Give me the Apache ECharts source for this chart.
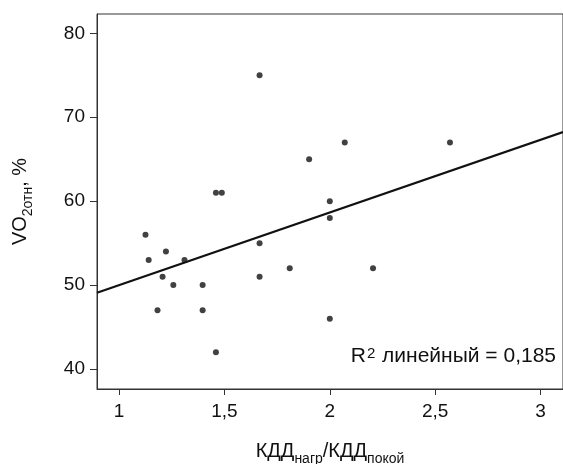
<!DOCTYPE html>
<html>
<head>
<meta charset="utf-8">
<script src="https://cdn.jsdelivr.net/npm/echarts@6/dist/echarts.min.js"></script>
<style>html,body{margin:0;padding:0;background:#fff}#c{width:563px;height:464px}</style>
</head>
<body>
<div id="c"></div>
<script>
// Data
var ratio = [1.667, 2.071, 2.570, 1.902, 1.460, 1.488, 2.000, 2.000, 1.126, 1.667, 1.223, 1.141, 1.311, 1.810, 2.205, 1.207, 1.667, 1.258, 1.397, 1.183, 1.397, 2.000, 1.460];
var vo2   = [75,    67,    67,    65,    61,    61,    60,    58,    56,    55,    54,    53,    53,    52,    52,    51,    51,    50,    50,    47,    47,    46,    42];
var xTicks = [1, 1.5, 2, 2.5, 3];
var yTicks = [40, 50, 60, 70, 80];
var r2Text = '0,185';

var xMin = 0.896, xMax = 3.106, yMin = 37.62, yMax = 82.3;

// least-squares fit line from the points
var n = ratio.length, sx = 0, sy = 0;
for (var i = 0; i < n; i++) { sx += ratio[i]; sy += vo2[i]; }
var mx = sx / n, my = sy / n, sxy = 0, sxx = 0;
for (var i = 0; i < n; i++) { sxy += (ratio[i]-mx)*(vo2[i]-my); sxx += (ratio[i]-mx)*(ratio[i]-mx); }
var slope = sxy / sxx, icpt = my - slope * mx;
var fit = [[xMin, icpt + slope*xMin], [xMax, icpt + slope*xMax]];

var pts = ratio.map(function (x, i) { return [x, vo2[i]]; });
var FONT = "'Liberation Sans', Arial, Helvetica, sans-serif";
var TXT = '#111';

var chart = echarts.init(document.getElementById('c'), null, {renderer: 'canvas'});
chart.setOption({
  animation: false,
  backgroundColor: '#fff',
  grid: {left: 97, top: 14, right: 0, bottom: 75, show: true, borderColor: '#333', borderWidth: 1,
         containLabel: false, outerBoundsMode: 'none'},
  xAxis: {
    type: 'value', min: xMin, max: xMax,
    splitLine: {show: false},
    axisLine: {show: true, lineStyle: {color: '#333', width: 1}},
    axisTick: {show: true, length: 6, lineStyle: {color: '#333'}, customValues: xTicks},
    axisLabel: {customValues: xTicks, margin: 13, fontSize: 19, color: TXT, fontFamily: FONT,
      formatter: function (v) { return String(v).replace('.', ','); }},
    name: '{a|КДД}{s|нагр}{a|/КДД}{s|покой}',
    nameLocation: 'middle', nameGap: 52,
    nameTextStyle: {
      rich: {
        a: {fontSize: 20, fontFamily: FONT, color: TXT, verticalAlign: 'top', lineHeight: 22},
        s: {fontSize: 14, fontFamily: FONT, color: TXT, verticalAlign: 'top', lineHeight: 14, padding: [11, 0, 0, 0]}
      }
    }
  },
  yAxis: {
    type: 'value', min: yMin, max: yMax,
    splitLine: {show: false},
    axisLine: {show: true, lineStyle: {color: '#333', width: 1}},
    axisTick: {show: true, length: 7, lineStyle: {color: '#333'}, customValues: yTicks},
    axisLabel: {customValues: yTicks, margin: 12, fontSize: 19, color: TXT, fontFamily: FONT},
    name: '{a|VO}{s|2отн}{a|, %}',
    nameLocation: 'middle', nameGap: 65, nameRotate: 90,
    nameTextStyle: {
      rich: {
        a: {fontSize: 20, fontFamily: FONT, color: TXT, verticalAlign: 'top', lineHeight: 22},
        s: {fontSize: 14, fontFamily: FONT, color: TXT, verticalAlign: 'top', lineHeight: 14, padding: [11, 0, 0, 0]}
      }
    }
  },
  graphic: [{
    type: 'text', right: 7, top: 346,
    style: {
      text: '{r|R}{p|2}{r| линейный = ' + r2Text + '}',
      rich: {
        r: {fontSize: 21, fontFamily: FONT, fill: TXT, verticalAlign: 'top', lineHeight: 23},
        p: {fontSize: 15, fontFamily: FONT, fill: TXT, verticalAlign: 'top', lineHeight: 15, padding: [0, 1, 0, 1]}
      }
    }
  }],
  series: [
    {type: 'line', data: fit, symbol: 'none', lineStyle: {color: '#111', width: 2.2}, silent: true, z: 2},
    {type: 'scatter', data: pts, symbol: 'circle', symbolSize: 6, itemStyle: {color: '#111'}, z: 3}
  ]
});
</script>
</body>
</html>
